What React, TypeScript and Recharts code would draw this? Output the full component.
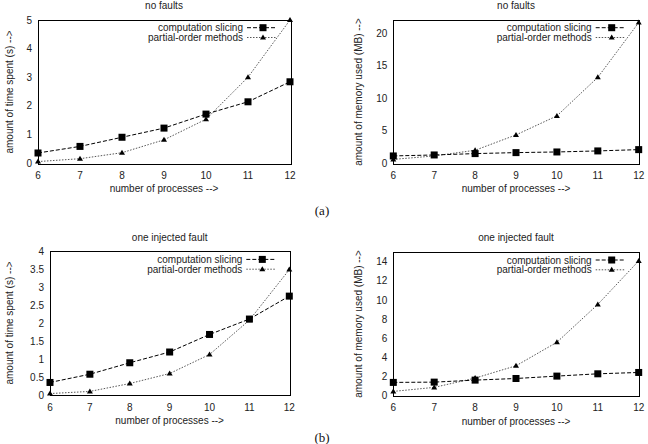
import React from 'react';
import { LineChart, Line, XAxis, YAxis } from 'recharts';

const FONT = '"Liberation Sans", Arial, Helvetica, sans-serif';

const processes = [6, 7, 8, 9, 10, 11, 12];
const xTicks = [6, 7, 8, 9, 10, 11, 12];

const timeNoFaultSlicing = [0.35, 0.58, 0.9, 1.22, 1.71, 2.14, 2.84];
const timeNoFaultPartial = [0.05, 0.15, 0.36, 0.81, 1.53, 3.0, 5.0];
const memNoFaultSlicing = [1.13, 1.28, 1.49, 1.64, 1.74, 1.9, 2.1];
const memNoFaultPartial = [0.6, 1.13, 2.0, 4.36, 7.28, 13.2, 21.6];
const timeOneFaultSlicing = [0.35, 0.58, 0.9, 1.2, 1.69, 2.12, 2.76];
const timeOneFaultPartial = [0.04, 0.1, 0.32, 0.6, 1.13, 2.09, 3.5];
const memOneFaultSlicing = [1.39, 1.42, 1.63, 1.8, 2.05, 2.29, 2.43];
const memOneFaultPartial = [0.45, 0.87, 1.84, 3.13, 5.59, 9.55, 14.1];

const timeTicksA = [0, 1, 2, 3, 4, 5];
const memTicksA = [0, 5, 10, 15, 20];
const timeTicksB = [0, 0.5, 1, 1.5, 2, 2.5, 3, 3.5, 4];
const memTicksB = [0, 2, 4, 6, 8, 10, 12, 14];

const seriesNames = ['computation slicing', 'partial-order methods'];
const titleA = 'no faults';
const titleB = 'one injected fault';
const xLabel = 'number of processes -->';
const timeLabel = 'amount of time spent (s) -->';
const memLabel = 'amount of memory used (MB) -->';

const SLICE_DASH = '4 2';
const PARTIAL_DASH = '1.5 1.5';

const Square = (props: any) => {
  const { cx, cy } = props;
  if (cx == null || cy == null) return null;
  return <rect x={cx - 3.5} y={cy - 3.5} width={7} height={7} fill="#000" />;
};

const Triangle = (props: any) => {
  const { cx, cy } = props;
  if (cx == null || cy == null) return null;
  return <path d={`M${cx - 3},${cy + 2} L${cx + 3},${cy + 2} L${cx},${cy - 3} Z`} fill="#000" />;
};

type PanelProps = {
  left: number;
  top: number;
  w: number;
  h: number;
  pl: number;
  pt: number;
  pr: number;
  pb: number;
  slicing: number[];
  partial: number[];
  yDomain: [number, number];
  yTicks: number[];
  title: string;
  yLabel: string;
  yLabelX: number;
};

function Panel(p: PanelProps) {
  const data = processes.map((n, i) => ({ n, cs: p.slicing[i], po: p.partial[i] }));
  const innerX = xTicks.slice(1, -1);
  const innerY = p.yTicks.filter((v) => v !== p.yTicks[0] && v !== p.yDomain[1]);

  const XTick = (props: any) => {
    const { x, payload } = props;
    return (
      <text x={x} y={p.pb + 12} textAnchor="middle" dominantBaseline="central" fontSize={10} fill="#222" fontFamily={FONT}>
        {payload.value}
      </text>
    );
  };

  const YTick = (props: any) => {
    const { y, payload } = props;
    return (
      <text x={p.pl - 6} y={y} textAnchor="end" dominantBaseline="central" fontSize={10} fill="#222" fontFamily={FONT}>
        {payload.value}
      </text>
    );
  };

  const textStyle: React.CSSProperties = {
    position: 'absolute',
    fontFamily: FONT,
    fontSize: 10,
    lineHeight: '10px',
    color: '#222',
    whiteSpace: 'nowrap',
  };
  const cx = (p.pl + p.pr) / 2;
  const cy = (p.pt + p.pb) / 2;
  const tickLineStyle = { stroke: '#000', strokeWidth: 1 };

  return (
    <div style={{ position: 'absolute', left: p.left, top: p.top, width: p.w, height: p.h }}>
      <LineChart
        width={p.w}
        height={p.h}
        data={data}
        margin={{ top: p.pt, right: p.w - p.pr, bottom: 0, left: 0 }}
      >
        <XAxis
          dataKey="n"
          type="number"
          domain={[6, 12]}
          ticks={xTicks}
          axisLine={false}
          tickLine={false}
          tick={XTick}
          height={p.h - p.pb}
          interval={0}
        />
        <XAxis
          xAxisId="bm"
          orientation="bottom"
          mirror
          type="number"
          domain={[6, 12]}
          ticks={innerX}
          axisLine={false}
          tickLine={tickLineStyle}
          tickSize={5}
          tick={false}
          height={0}
          interval={0}
        />
        <XAxis
          xAxisId="tm"
          orientation="top"
          mirror
          type="number"
          domain={[6, 12]}
          ticks={innerX}
          axisLine={false}
          tickLine={tickLineStyle}
          tickSize={5}
          tick={false}
          height={0}
          interval={0}
        />
        <YAxis
          type="number"
          domain={p.yDomain}
          ticks={p.yTicks}
          axisLine={false}
          tickLine={false}
          tick={YTick}
          width={p.pl}
          interval={0}
        />
        <YAxis
          yAxisId="lm"
          orientation="left"
          mirror
          type="number"
          domain={p.yDomain}
          ticks={innerY}
          axisLine={false}
          tickLine={tickLineStyle}
          tickSize={5}
          tick={false}
          width={0}
          interval={0}
        />
        <YAxis
          yAxisId="rm"
          orientation="right"
          mirror
          type="number"
          domain={p.yDomain}
          ticks={innerY}
          axisLine={false}
          tickLine={tickLineStyle}
          tickSize={5}
          tick={false}
          width={0}
          interval={0}
        />
        <Line
          type="linear"
          dataKey="po"
          stroke="#444"
          strokeWidth={0.9}
          strokeDasharray={PARTIAL_DASH}
          dot={Triangle}
          activeDot={false}
          isAnimationActive={false}
        />
        <Line
          type="linear"
          dataKey="cs"
          stroke="#000"
          strokeWidth={1}
          strokeDasharray={SLICE_DASH}
          dot={Square}
          activeDot={false}
          isAnimationActive={false}
        />
      </LineChart>

      <div
        style={{
          position: 'absolute',
          left: p.pl - 0.5,
          top: p.pt - 0.5,
          width: p.pr - p.pl,
          height: p.pb - p.pt,
          border: '1px solid #000',
          pointerEvents: 'none',
        }}
      />
      <div style={{ ...textStyle, left: cx, top: p.pt - 14, transform: 'translate(-50%, -50%)' }}>{p.title}</div>
      <div style={{ ...textStyle, left: cx, top: p.pb + 26, transform: 'translate(-50%, -50%)' }}>{xLabel}</div>
      <div
        style={{
          ...textStyle,
          left: p.yLabelX,
          top: cy,
          transform: 'translate(-50%, -50%) rotate(-90deg)',
        }}
      >
        {p.yLabel}
      </div>
      <svg
        style={{ position: 'absolute', left: 0, top: 0, overflow: 'visible', pointerEvents: 'none' }}
        width={p.w}
        height={p.h}
      >
        {seriesNames.map((name, i) => {
          const y = p.pt + 7.7 + i * 9.8;
          const mx = p.pr - 27;
          return (
            <g key={name}>
              <text x={p.pr - 47} y={y} textAnchor="end" dominantBaseline="central" fontSize={10} fill="#222" fontFamily={FONT}>
                {name}
              </text>
              <line
                x1={p.pr - 43}
                x2={p.pr - 13}
                y1={y}
                y2={y}
                stroke={i === 0 ? '#000' : '#444'}
                strokeWidth={i === 0 ? 1 : 0.9}
                strokeDasharray={i === 0 ? SLICE_DASH : PARTIAL_DASH}
              />
              {i === 0 ? <Square cx={mx} cy={y} /> : <Triangle cx={mx} cy={y} />}
            </g>
          );
        })}
      </svg>
    </div>
  );
}

export default function App() {
  return (
    <div
      style={{
        position: 'absolute',
        left: 0,
        top: 0,
        width: 648,
        height: 444,
        background: '#fff',
        overflow: 'hidden',
      }}
    >
      <Panel
        left={0}
        top={0}
        w={324}
        h={200}
        pl={38}
        pt={20}
        pr={290}
        pb={163}
        slicing={timeNoFaultSlicing}
        partial={timeNoFaultPartial}
        yDomain={[0, 5]}
        yTicks={timeTicksA}
        title={titleA}
        yLabel={timeLabel}
        yLabelX={10}
      />
      <Panel
        left={324}
        top={0}
        w={324}
        h={200}
        pl={69.3}
        pt={20}
        pr={314.7}
        pb={163.3}
        slicing={memNoFaultSlicing}
        partial={memNoFaultPartial}
        yDomain={[0, 22]}
        yTicks={memTicksA}
        title={titleA}
        yLabel={memLabel}
        yLabelX={35}
      />
      <Panel
        left={0}
        top={220}
        w={324}
        h={224}
        pl={50}
        pt={31.7}
        pr={289.3}
        pb={175}
        slicing={timeOneFaultSlicing}
        partial={timeOneFaultPartial}
        yDomain={[0, 4]}
        yTicks={timeTicksB}
        title={titleB}
        yLabel={timeLabel}
        yLabelX={10}
      />
      <Panel
        left={324}
        top={220}
        w={324}
        h={224}
        pl={69.3}
        pt={32.3}
        pr={314.7}
        pb={175.7}
        slicing={memOneFaultSlicing}
        partial={memOneFaultPartial}
        yDomain={[0, 15]}
        yTicks={memTicksB}
        title={titleB}
        yLabel={memLabel}
        yLabelX={35}
      />
      <div
        style={{
          position: 'absolute',
          left: 322,
          top: 210,
          transform: 'translate(-50%, -50%)',
          fontFamily: '"Liberation Serif", "Times New Roman", serif',
          fontSize: 13,
          lineHeight: '13px',
          color: '#111',
        }}
      >
        (a)
      </div>
      <div
        style={{
          position: 'absolute',
          left: 322,
          top: 437,
          transform: 'translate(-50%, -50%)',
          fontFamily: '"Liberation Serif", "Times New Roman", serif',
          fontSize: 13,
          lineHeight: '13px',
          color: '#111',
        }}
      >
        (b)
      </div>
    </div>
  );
}
